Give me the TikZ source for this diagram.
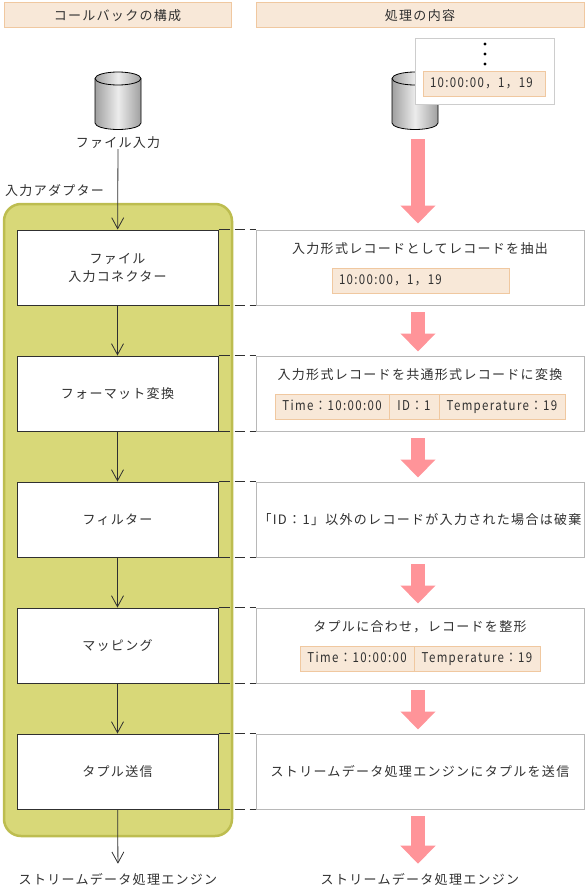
\documentclass[tikz,border=0pt]{standalone}
\usepackage{fontspec}
\setmainfont[LetterSpace=10]{Noto Sans CJK JP}
\newfontfamily\recordfont[FakeStretch=0.85,LetterSpace=10]{Noto Sans CJK JP}
\usetikzlibrary{arrows.meta,positioning,calc}

\definecolor{headfill}{HTML}{F8E8D8}
\definecolor{headline}{HTML}{F0C8A0}
\definecolor{adapterfill}{HTML}{D8D878}
\definecolor{adapterline}{HTML}{BDBD50}
\definecolor{flowpink}{HTML}{FF9499}
\definecolor{detailline}{HTML}{B8B8B8}
\definecolor{inkdark}{HTML}{303030}

\tikzset{
    every node/.style={font=\fontsize{13}{18}\selectfont,text=inkdark,inner sep=0pt},
    head/.style={draw=headline,fill=headfill,line width=1pt,minimum height=25pt},
    stagebox/.style={draw=inkdark,fill=white,line width=1pt,minimum width=201pt,minimum height=75pt,align=center},
    detail/.style={draw=detailline,fill=white,line width=1pt,minimum width=328pt,minimum height=75pt},
    cell/.style={draw=headline,fill=headfill,line width=1pt,minimum height=25pt,text height=10.5pt,text depth=3pt,
        font=\recordfont\fontsize{13.5}{18}\selectfont},
    thinflow/.style={draw=inkdark,line width=0.8pt,-{Straight Barb[length=11pt,width=12pt]}},
    pinkflow/.style={draw=flowpink,line width=14pt,-{Triangle[width=34pt,length=18pt]}},
    leader/.style={draw=inkdark,line width=1pt,dash pattern=on 11pt off 5pt on 10pt off 5pt on 7pt off 10pt},
    drum/.pic={
        \path[left color=gray!75,right color=gray!75,middle color=gray!15]
            (-23,-22.5) -- (-23,22) arc (180:0:23 and 6.5) -- (23,-22.5) arc (0:-180:23 and 6.5) -- cycle;
        \draw[black,line width=0.8pt] (-23,-22.5) -- (-23,22) arc (180:0:23 and 6.5) -- (23,-22.5);
        \draw[black,line width=0.8pt] (0,-22.5) ellipse (23 and 6.5);
    }
}

\begin{document}
\begin{tikzpicture}[x=1pt,y=-1pt]
    \useasboundingbox (0,0) rectangle (588,891);

    % Column heads
    \node[head,minimum width=227pt] (headleft) at (117.5,15.5) {コールバックの構成};
    \node[head,minimum width=328pt] (headright) at (420,15.5) {処理の内容};

    % Adapter frame
    \node[draw=adapterline,fill=adapterfill,line width=2.5pt,rounded corners=17pt,minimum width=228pt,minimum height=632pt] (adapter) at (118,520) {};
    \node[anchor=west] (adaptername) at (5,191) {入力アダプター};

    % Input files
    \pic at (118,101) {drum};
    \pic at (415,101) {drum};
    \node (filein) at (118,143) {ファイル入力};

    % Sample record lying on the file
    \node[draw=detailline!70,fill=white,line width=1pt,minimum width=139pt,minimum height=65pt] (inset) at (484.5,71.5) {};
    \foreach \dy in {44,54,64}
        \fill[black] (485,\dy) circle (1.6);
    \node[cell,text width=108pt,inner xsep=7pt] (record0) at (484,83.5) {10:00:00，1，19};

    % Stages on the left
    \node[stagebox] (box1) at (117.5,267.5) {ファイル\\入力コネクター};
    \node[stagebox] (box2) at (117.5,393.5) {フォーマット変換};
    \node[stagebox] (box3) at (117.5,519.5) {フィルター};
    \node[stagebox] (box4) at (117.5,645.5) {マッピング};
    \node[stagebox] (box5) at (117.5,771.5) {タプル送信};

    % What each stage does
    \node[detail] (detail1) at (420,267.5) {};
    \node[detail] (detail2) at (420,393.5) {};
    \node[detail] (detail3) at (420,519.5) {「ID：1」以外のレコードが入力された場合は破棄};
    \node[detail] (detail4) at (420,645.5) {};
    \node[detail] (detail5) at (420,771.5) {ストリームデータ処理エンジンにタプルを送信};

    \node (text1) at (420,249) {入力形式レコードとしてレコードを抽出};
    \node[cell,text width=163pt,inner xsep=7pt] (record1) at (420.5,280.5) {10:00:00，1，19};

    \node (text2) at (420,375) {入力形式レコードを共通形式レコードに変換};
    \node[cell,minimum width=114pt] (timecell) at (332,406.5) {Time：10:00:00};
    \node[cell,minimum width=50pt] (idcell) at (414,406.5) {ID：1};
    \node[cell,minimum width=126pt] (tempcell) at (502,406.5) {Temperature：19};

    \node (text4) at (420,627) {タプルに合わせ，レコードを整形};
    \node[cell,minimum width=114pt] (timecell2) at (357,658.5) {Time：10:00:00};
    \node[cell,minimum width=126pt] (tempcell2) at (477,658.5) {Temperature：19};

    % Engine labels
    \node (engineleft) at (118,879) {ストリームデータ処理エンジン};
    \node (engineright) at (420,879) {ストリームデータ処理エンジン};

    % Leaders between the two columns
    \foreach \n in {1,...,5} {
        \draw[leader] (box\n.north east) -- (detail\n.north west);
        \draw[leader] (box\n.south east) -- (detail\n.south west);
    }

    % Thin flow
    \draw[thinflow] (filein) -- (box1);
    \draw[thinflow] (box1) -- (box2);
    \draw[thinflow] (box2) -- (box3);
    \draw[thinflow] (box3) -- (box4);
    \draw[thinflow] (box4) -- (box5);
    \draw[thinflow,shorten >=9pt] (box5) -- (engineleft);

    % Pink flow
    \coordinate (drumfoot) at (418,139);
    \draw[pinkflow] (drumfoot) -- ([xshift=-2pt,yshift=6pt]detail1.north);
    \foreach \a/\b in {1/2,2/3,3/4,4/5}
        \draw[pinkflow] ([xshift=-2pt,yshift=-6.5pt]detail\a.south) -- ([xshift=-2pt,yshift=4pt]detail\b.north);
    \draw[pinkflow] ([xshift=-2pt,yshift=-6.5pt]detail5.south) -- ([xshift=-2pt,yshift=9pt]engineright.north);
\end{tikzpicture}
\end{document}
